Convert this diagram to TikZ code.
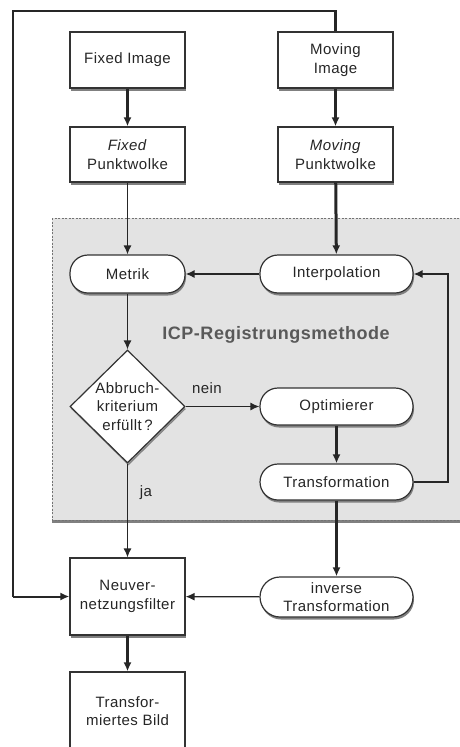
\documentclass[tikz,border=0pt]{standalone}
\usepackage{fontspec}
\setmainfont{Liberation Sans}[LetterSpace=3]
\usetikzlibrary{arrows.meta,shapes.geometric,shadows}
\begin{document}
\begin{tikzpicture}[x=1pt,y=-1pt,
  every node/.style={font=\fontsize{15}{18.5}\selectfont, text=black!85, align=center},
  shad/.style={drop shadow={shadow xshift=1pt, shadow yshift=-2.5pt, fill=black!50, opacity=1}},
  box/.style={draw=black!80, line width=1.2pt, fill=white, minimum width=115pt, inner sep=0pt, shad},
  pill/.style={box, rounded corners=18pt, minimum width=153pt, minimum height=38pt},
  thinarrow/.style={line width=1.3pt, draw=black!85, -{Latex[length=9pt,width=8pt]}},
  thickarrow/.style={line width=3pt, draw=black!85, -{Latex[length=9pt,width=8pt]}}
]
\useasboundingbox (0,0) rectangle (460,747);
% ICP region
\path[fill=black!11, draw=black!55, line width=0.9pt, dash pattern=on 2pt off 1.5pt,
  drop shadow={shadow xshift=0pt, shadow yshift=-2.5pt, fill=black!50, opacity=1}]
  (52,218) rectangle (475,520);
\node[font=\bfseries\fontsize{18}{20}\selectfont, text=black!65] (icp) at (276,335) {ICP-Registrungsmethode};

% nodes
\node[box, minimum height=56pt] (fimg) at (127.5,60) {Fixed Image};
\node[box, minimum height=56pt] (mimg) at (335.5,60) {Moving\\Image};
\node[box, minimum height=55pt] (fpw) at (127.5,154.5) {\textit{Fixed}\\Punktwolke};
\node[box, minimum height=55pt] (mpw) at (335.5,154.5) {\textit{Moving}\\Punktwolke};
\node[pill, minimum width=115pt] (metrik) at (127.5,274) {Metrik};
\node[pill] (interp) at (336.5,274) {Interpolation};
\node[box, diamond, minimum width=115pt, minimum height=113pt, drop shadow={shadow xshift=0.5pt, shadow yshift=-1.5pt, fill=black!40, opacity=1}] (crit) at (127.5,406.5) {};
\node (critlabel) at (crit.center) {Abbruch-\\kriterium\\erfüllt\,?};
\node[pill, minimum height=37pt] (opt) at (336.5,406.5) {Optimierer};
\node[pill, minimum height=36pt] (trans) at (336.5,482) {Transformation};
\node[box, minimum height=77pt] (neu) at (127.5,596.5) {Neuver-\\netzungsfilter};
\node[pill, minimum height=40pt, rounded corners=20pt] (inv) at (336.5,597) {inverse\\Transformation};
\node[box, minimum height=78pt] (tb) at (127.5,711) {Transfor-\\miertes Bild};

% labels
\node (nein) at (207,388) {nein};
\node (ja) at (146,493) {ja};

% connectors
\coordinate (topleft) at (13,11);
\coordinate (botleft) at (13,596.5);
\coordinate (loopc) at (448,482);
\draw[line width=2.8pt, draw=black!85] (mimg.north) |- (topleft) -- (botleft);
\draw[thickarrow, line width=2pt] (botleft) -- (neu.west);
\draw[thickarrow] (fimg) -- (fpw);
\draw[thickarrow] (mimg) -- (mpw);
\draw[thinarrow] (fpw) -- (metrik);
\draw[thickarrow] (mpw) -- (interp);
\draw[thinarrow] (interp) -- (metrik);
\draw[thinarrow] (metrik) -- (crit);
\draw[thinarrow] (crit) -- (opt);
\draw[thickarrow] (opt) -- (trans);
\draw[thinarrow] (trans.east) -- (loopc) |- (interp.east);
\draw[thinarrow] (crit) -- (neu);
\draw[thickarrow] (trans) -- (inv);
\draw[thinarrow] (inv) -- (neu);
\draw[thickarrow] (neu) -- (tb);
\end{tikzpicture}
\end{document}
